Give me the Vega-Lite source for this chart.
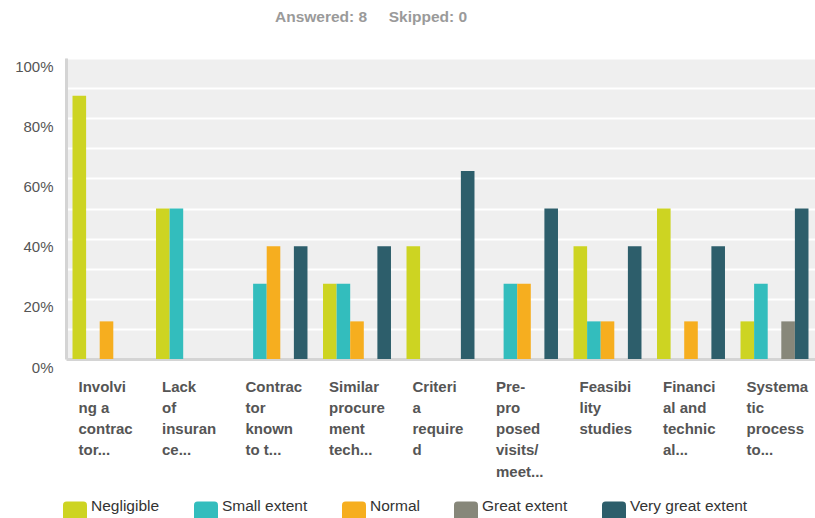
{
  "$schema": "https://vega.github.io/schema/vega-lite/v6.json",
  "width": 749,
  "height": 301,
  "autosize": {"type": "none"},
  "padding": {"left": 66, "top": 58, "right": 0, "bottom": 159},
  "background": "#ffffff",
  "title": {
    "text": "Answered: 8\u00a0\u00a0\u00a0\u00a0\u00a0Skipped: 0",
    "anchor": "start",
    "frame": "group",
    "dx": 209,
    "offset": 33,
    "font": "Liberation Sans",
    "fontSize": 15.5,
    "fontWeight": "bold",
    "color": "#9a9a9a"
  },
  "config": {
    "view": {"fill": "#efefef", "stroke": null},
    "font": "Liberation Sans"
  },
  "data": {
    "values": [
      {"category": "Involvi|ng a|contrac|tor...", "level": "Negligible", "pct": 87.5},
      {"category": "Involvi|ng a|contrac|tor...", "level": "Small extent", "pct": 0},
      {"category": "Involvi|ng a|contrac|tor...", "level": "Normal", "pct": 12.5},
      {"category": "Involvi|ng a|contrac|tor...", "level": "Great extent", "pct": 0},
      {"category": "Involvi|ng a|contrac|tor...", "level": "Very great extent", "pct": 0},
      {"category": "Lack|of|insuran|ce...", "level": "Negligible", "pct": 50},
      {"category": "Lack|of|insuran|ce...", "level": "Small extent", "pct": 50},
      {"category": "Lack|of|insuran|ce...", "level": "Normal", "pct": 0},
      {"category": "Lack|of|insuran|ce...", "level": "Great extent", "pct": 0},
      {"category": "Lack|of|insuran|ce...", "level": "Very great extent", "pct": 0},
      {"category": "Contrac|tor|known|to t...", "level": "Negligible", "pct": 0},
      {"category": "Contrac|tor|known|to t...", "level": "Small extent", "pct": 25},
      {"category": "Contrac|tor|known|to t...", "level": "Normal", "pct": 37.5},
      {"category": "Contrac|tor|known|to t...", "level": "Great extent", "pct": 0},
      {"category": "Contrac|tor|known|to t...", "level": "Very great extent", "pct": 37.5},
      {"category": "Similar|procure|ment|tech...", "level": "Negligible", "pct": 25},
      {"category": "Similar|procure|ment|tech...", "level": "Small extent", "pct": 25},
      {"category": "Similar|procure|ment|tech...", "level": "Normal", "pct": 12.5},
      {"category": "Similar|procure|ment|tech...", "level": "Great extent", "pct": 0},
      {"category": "Similar|procure|ment|tech...", "level": "Very great extent", "pct": 37.5},
      {"category": "Criteri|a|require|d", "level": "Negligible", "pct": 37.5},
      {"category": "Criteri|a|require|d", "level": "Small extent", "pct": 0},
      {"category": "Criteri|a|require|d", "level": "Normal", "pct": 0},
      {"category": "Criteri|a|require|d", "level": "Great extent", "pct": 0},
      {"category": "Criteri|a|require|d", "level": "Very great extent", "pct": 62.5},
      {"category": "Pre-|pro|posed|visits/|meet...", "level": "Negligible", "pct": 0},
      {"category": "Pre-|pro|posed|visits/|meet...", "level": "Small extent", "pct": 25},
      {"category": "Pre-|pro|posed|visits/|meet...", "level": "Normal", "pct": 25},
      {"category": "Pre-|pro|posed|visits/|meet...", "level": "Great extent", "pct": 0},
      {"category": "Pre-|pro|posed|visits/|meet...", "level": "Very great extent", "pct": 50},
      {"category": "Feasibi|lity|studies", "level": "Negligible", "pct": 37.5},
      {"category": "Feasibi|lity|studies", "level": "Small extent", "pct": 12.5},
      {"category": "Feasibi|lity|studies", "level": "Normal", "pct": 12.5},
      {"category": "Feasibi|lity|studies", "level": "Great extent", "pct": 0},
      {"category": "Feasibi|lity|studies", "level": "Very great extent", "pct": 37.5},
      {"category": "Financi|al and|technic|al...", "level": "Negligible", "pct": 50},
      {"category": "Financi|al and|technic|al...", "level": "Small extent", "pct": 0},
      {"category": "Financi|al and|technic|al...", "level": "Normal", "pct": 12.5},
      {"category": "Financi|al and|technic|al...", "level": "Great extent", "pct": 0},
      {"category": "Financi|al and|technic|al...", "level": "Very great extent", "pct": 37.5},
      {"category": "Systema|tic|process|to...", "level": "Negligible", "pct": 12.5},
      {"category": "Systema|tic|process|to...", "level": "Small extent", "pct": 25},
      {"category": "Systema|tic|process|to...", "level": "Normal", "pct": 0},
      {"category": "Systema|tic|process|to...", "level": "Great extent", "pct": 12.5},
      {"category": "Systema|tic|process|to...", "level": "Very great extent", "pct": 50}
    ]
  },
  "mark": {"type": "bar"},
  "encoding": {
    "x": {
      "field": "category",
      "type": "nominal",
      "sort": null,
      "scale": {"paddingInner": 0.186, "paddingOuter": 0.078},
      "axis": {
        "title": null,
        "labelAlign": "left",
        "labelBaseline": "top",
        "labelOffset": -28,
        "labelPadding": 20,
        "labelAngle": 0,
        "labelExpr": "split(datum.label, '|')",
        "labelLineHeight": 21.3,
        "labelFontSize": 15,
        "labelFontWeight": "bold",
        "labelColor": "#555555",
        "labelOverlap": false,
        "labelFlush": false,
        "labelLimit": 0,
        "labelBound": false,
        "ticks": false,
        "domainColor": "#d4d4d4",
        "domainWidth": 3
      }
    },
    "xOffset": {
      "field": "level",
      "type": "nominal",
      "scale": {"domain": ["Negligible", "Small extent", "Normal", "Great extent", "Very great extent"], "paddingInner": 0, "paddingOuter": 0}
    },
    "y": {
      "field": "pct",
      "type": "quantitative",
      "scale": {"domain": [0, 100], "nice": false},
      "axis": {
        "title": null,
        "values": [0, 10, 20, 30, 40, 50, 60, 70, 80, 90, 100],
        "labelExpr": "datum.value % 20 == 0 ? datum.value + '%' : ''",
        "labelFontSize": 15,
        "labelColor": "#555555",
        "labelPadding": 13,
        "labelBaseline": "top",
        "labelOffset": 1,
        "labelFlush": false,
        "labelBound": false,
        "ticks": false,
        "gridColor": "#ffffff",
        "gridWidth": 2,
        "domainColor": "#d4d4d4",
        "domainWidth": 3
      }
    },
    "color": {
      "field": "level",
      "type": "nominal",
      "scale": {
        "domain": ["Negligible", "Small extent", "Normal", "Great extent", "Very great extent"],
        "range": ["#cdd422", "#33bdbd", "#f6ae1f", "#87877a", "#2d5e6b"]
      },
      "legend": {
        "title": null,
        "orient": "none",
        "legendX": -3,
        "legendY": 436,
        "direction": "horizontal",
        "symbolType": "M-0.7,-0.38H0.7Q1,-0.38,1,-0.08V0.92Q1,1.22,0.7,1.22H-0.7Q-1,1.22,-1,0.92V-0.08Q-1,-0.38,-0.7,-0.38Z",
        "symbolSize": 576,
        "symbolStrokeWidth": 0,
        "symbolOpacity": 1,
        "labelFontSize": 15.5,
        "labelColor": "#333333",
        "labelOffset": 4,
        "columnPadding": 34,
        "labelLimit": 0
      }
    }
  }
}
